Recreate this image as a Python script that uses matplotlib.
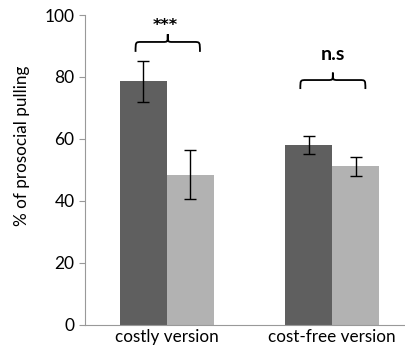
import matplotlib.pyplot as plt
from matplotlib.path import Path
from matplotlib.patches import PathPatch

plt.rcParams['font.family'] = ['Lato', 'DejaVu Sans']

categories = ['costly version', 'cost-free version']
dark_means = [78.6, 58.0]
dark_err = [6.7, 3.0]
light_means = [48.5, 51.1]
light_err = [7.9, 3.0]
signif = ['***', 'n.s']

fig = plt.figure(figsize=(4.06, 3.5), dpi=100)
ax = fig.add_axes([0.209, 0.0723, 0.791, 0.8848])

w = 0.285
x = [0, 1]
ax.bar([i - w / 2 for i in x], dark_means, w, color='#5f5f5f',
       yerr=dark_err, error_kw=dict(ecolor='black', elinewidth=1.0, capsize=4, capthick=1.0))
ax.bar([i + w / 2 for i in x], light_means, w, color='#b2b2b2',
       yerr=light_err, error_kw=dict(ecolor='black', elinewidth=1.0, capsize=4, capthick=1.0))


def brace(ax, xc, half, y_end, y_line, y_tip):
    # curly brace opening downward
    r = 0.036
    m = 0.03
    verts = [
        (xc - half, y_end),
        (xc - half, y_line), (xc - half, y_line), (xc - half + r, y_line),
        (xc - m, y_line),
        (xc, y_line), (xc, y_line), (xc, y_tip),
        (xc, y_line), (xc, y_line), (xc + m, y_line),
        (xc + half - r, y_line),
        (xc + half, y_line), (xc + half, y_line), (xc + half, y_end),
    ]
    codes = [Path.MOVETO,
             Path.CURVE4, Path.CURVE4, Path.CURVE4,
             Path.LINETO,
             Path.CURVE4, Path.CURVE4, Path.CURVE4,
             Path.CURVE4, Path.CURVE4, Path.CURVE4,
             Path.LINETO,
             Path.CURVE4, Path.CURVE4, Path.CURVE4]
    ax.add_patch(PathPatch(Path(verts, codes), fill=False, lw=1.3, color='black', clip_on=False))


brace(ax, 0.005, 0.195, 88.1, 91.3, 93.8)
brace(ax, 1.005, 0.197, 76.1, 79.0, 81.4)
ax.text(-0.01, 96.5, signif[0], ha='center', va='center', fontsize=11.5, fontweight='bold',
        family=['DejaVu Sans'])
ax.text(1.005, 87.4, signif[1], ha='center', va='center', fontsize=14, fontweight='bold')

ax.set_xlim(-0.497, 1.448)
ax.set_ylim(0, 100)
ax.set_yticks([0, 20, 40, 60, 80, 100])
ax.set_xticks(x)
ax.set_xticklabels(categories, fontsize=12.3)
ax.tick_params(axis='x', length=0, pad=3)
ax.tick_params(axis='y', direction='out', length=4.5, color='#999999', labelsize=12.5, pad=3)
ax.set_ylabel('% of prosocial pulling', fontsize=12.3)
ax.yaxis.set_label_coords(-0.172, 0.577)

for s in ['top', 'right']:
    ax.spines[s].set_visible(False)
ax.spines['left'].set_color('#999999')
ax.spines['bottom'].set_color('#999999')

fig.savefig('out.png', dpi=100)
